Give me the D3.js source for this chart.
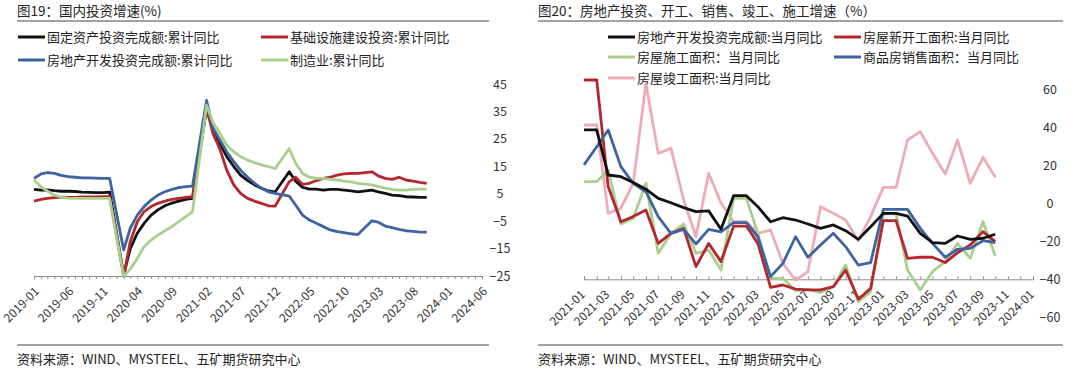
<!DOCTYPE html>
<html>
<head>
<meta charset="utf-8">
<script src="https://cdn.jsdelivr.net/npm/d3@7"></script>
<style>
  body { margin: 0; background: #fff; }
  svg { display: block; font-family: "Noto Sans CJK SC", "Noto Sans", sans-serif; }
</style>
</head>
<body>
<svg id="chart" width="1080" height="372"></svg>
<script>
const parse = d3.timeParse('%Y-%m')

// left panel: cumulative yoy, 2019-01 .. 2023-10 (no January print from 2020 on)
const leftDates = d3.timeMonth.range(parse('2019-01'), parse('2023-11'))
const fixedAsset = [
  6.6, 6.3, 6.4, 6.1, 5.9, 5.9, 5.8, 5.6, 5.5, 5.4, 5.4, 5.6,
  null, -24.6, -15.0, -9.4, -5.8, -2.8, -0.9, 0.6, 1.6, 2.3, 2.9, 3.3,
  null, 36.0, 28.0, 23.4, 18.5, 14.9, 11.8, 9.8, 8.2, 7.0, 6.0, 5.7,
  null, 13.0, 9.6, 7.3, 6.7, 6.7, 6.3, 6.6, 6.6, 6.3, 6.0, 5.7,
  null, 6.3, 5.7, 5.1, 4.5, 4.3, 3.9, 3.8, 3.7, 3.7,
]
const infra = [
  2.3, 2.9, 3.3, 3.6, 3.7, 3.7, 3.7, 3.8, 3.8, 3.8, 3.9, 3.9,
  null, -25.0, -12.5, -5.2, -1.5, 0.3, 1.5, 2.3, 2.9, 3.3, 3.7, 3.9,
  null, 36.5, 27.0, 21.2, 13.6, 8.2, 5.1, 3.3, 2.3, 1.5, 0.6, 0.5,
  null, 9.4, 11.0, 8.4, 8.8, 9.8, 10.6, 11.0, 11.8, 12.2, 12.4, 12.4,
  null, 13.0, 11.5, 10.6, 10.2, 11.0, 10.0, 9.6, 9.1, 8.8,
]
const realEstate = [
  10.6, 12.2, 12.7, 12.4, 11.7, 11.2, 11.0, 10.8, 10.8, 10.7, 10.6, 10.6,
  null, -15.5, -7.6, -2.8, 0.3, 2.7, 4.5, 5.7, 6.6, 7.2, 7.6, 7.8,
  null, 39.0, 29.0, 24.6, 20.3, 16.7, 13.6, 11.0, 8.8, 7.0, 5.7, 5.1,
  null, 4.1, 0.9, -2.8, -4.6, -5.8, -7.0, -8.2, -8.8, -9.2, -9.6, -9.9,
  null, -4.9, -5.4, -6.8, -7.4, -8.0, -8.5, -8.7, -9.0, -9.0,
]
const manufacturing = [
  10.0, 7.5, 6.0, 4.5, 3.7, 3.4, 3.3, 3.3, 3.3, 3.3, 3.3, 3.3,
  null, -25.0, -22.5, -18.6, -14.3, -11.9, -10.1, -8.5, -7.0, -5.2, -3.4, -1.5,
  null, 37.3, 31.0, 27.0, 22.7, 20.3, 18.5, 17.3, 16.3, 15.5, 14.9, 14.2,
  null, 21.5, 16.1, 12.4, 11.0, 10.6, 10.6, 10.2, 10.0, 9.6, 9.3, 8.8,
  null, 8.2, 7.6, 7.0, 6.6, 6.3, 6.3, 6.6, 6.7, 6.7,
]
const leftTickLabels = ['2019-01', '2019-06', '2019-11', '2020-04', '2020-09', '2021-02', '2021-07',
  '2021-12', '2022-05', '2022-10', '2023-03', '2023-08', '2024-01', '2024-06']
const leftYTicks = [45, 35, 25, 15, 5, -5, -15, -25]

// right panel: monthly yoy, 2021-01 .. 2023-10
const rightDates = d3.timeMonth.range(parse('2021-01'), parse('2023-11'))
const reInvestMonthly = [
  38.6, 38.6, 14.9, 14.0, 10.9, 7.4, 2.6, 0.3, -2.3, -4.4, -4.0, -13.7,
  4.0, 4.0, -1.8, -9.7, -7.6, -8.8, -10.9, -13.2, -11.4, -14.4, -19.0, -12.3,
  -5.3, -5.3, -6.7, -15.8, -20.7, -21.1, -17.2, -19.0, -18.4, -16.3,
]
const newStarts = [
  64.9, 64.9, 8.8, -9.7, -7.0, -3.5, -21.1, -15.8, -13.2, -33.3, -21.1, -30.7,
  -12.0, -12.0, -21.1, -44.2, -43.0, -45.2, -45.6, -45.6, -43.9, -35.1, -50.5, -44.8,
  -9.1, -9.1, -29.0, -28.4, -28.4, -31.2, -26.0, -21.9, -14.9, -20.2,
]
const underConstruction = [
  11.4, 11.4, 17.5, -10.9, -7.9, 10.5, -26.3, -15.8, -10.9, -26.3, -24.6, -35.1,
  2.6, 2.6, -15.8, -39.5, -39.5, -46.0, -45.3, -47.0, -43.9, -32.5, -51.8, -46.5,
  -5.6, -5.6, -35.1, -45.6, -36.0, -30.7, -21.1, -29.0, -9.7, -27.7,
]
const salesArea = [
  20.2, 29.8, 38.6, 19.3, 10.5, 6.1, -7.0, -15.8, -13.7, -21.4, -13.7, -15.0,
  -10.2, -10.2, -17.6, -38.6, -31.6, -17.6, -28.4, -21.9, -15.8, -22.8, -32.5, -31.2,
  -3.2, -3.2, -3.2, -13.2, -21.1, -28.4, -24.2, -23.7, -19.7, -20.7,
]
const completions = [
  41.2, 41.2, -5.3, -2.6, 10.5, 63.1, 26.3, 28.9, 1.8, -17.6, 15.8, 0.2,
  -9.7, -9.7, -15.8, -14.0, -31.6, -40.5, -36.0, -1.8, -5.3, -8.8, -19.7, -7.0,
  8.4, 8.4, 33.3, 37.7, 26.3, 15.4, 33.3, 10.5, 24.2, 13.7,
]
const rightTickLabels = ['2021-01', '2021-03', '2021-05', '2021-07', '2021-09', '2021-11', '2022-01',
  '2022-03', '2022-05', '2022-07', '2022-09', '2022-11', '2023-01', '2023-03', '2023-05', '2023-07',
  '2023-09', '2023-11', '2024-01']
const rightYTicks = [60, 40, 20, 0, -20, -40, -60]

const colors = {
  black: '#111111',
  red: '#b5262f',
  blue: '#3d64a0',
  green: '#a8cf8c',
  pink: '#efaab8',
}

const svg = d3.select('#chart')
svg.append('rect').attr('width', 1080).attr('height', 372).attr('fill', '#fff')

const drawFrame = (x0, x1, title) => {
  svg.append('text').attr('x', x0).attr('y', 16).attr('font-size', 13.5).attr('fill', '#222').text(title)
  svg.append('line').attr('x1', x0).attr('x2', x1).attr('y1', 21).attr('y2', 21)
    .attr('stroke', '#444').attr('stroke-width', 1)
  svg.append('line').attr('x1', x0).attr('x2', x1).attr('y1', 345).attr('y2', 345)
    .attr('stroke', '#444').attr('stroke-width', 1)
  svg.append('text').attr('x', x0).attr('y', 364).attr('font-size', 13).attr('fill', '#222')
    .text('资料来源：WIND、MYSTEEL、五矿期货研究中心')
}

const drawLegend = (items) => {
  items.forEach((it) => {
    svg.append('line').attr('x1', it.x).attr('x2', it.x + 27).attr('y1', it.y).attr('y2', it.y)
      .attr('stroke', it.color).attr('stroke-width', 3)
    svg.append('text').attr('x', it.x + 29).attr('y', it.y).attr('dy', '0.35em')
      .attr('font-size', 13).attr('fill', '#222').text(it.label)
  })
}

const drawSeries = (g, dates, series, x, y) => {
  const line = d3.line().x((d) => x(d.date)).y((d) => y(d.v))
  series.forEach((s) => {
    const pts = dates.map((date, i) => ({date, v: s.values[i]})).filter((d) => d.v != null)
    g.append('path').attr('d', line(pts)).attr('fill', 'none')
      .attr('stroke', s.color).attr('stroke-width', s.width || 2.8)
      .attr('stroke-linejoin', 'round')
  })
}

// ---------- left chart ----------
drawFrame(17, 489, '图19：国内投资增速(%)')
drawLegend([
  {x: 18, y: 37, color: colors.black, label: '固定资产投资完成额:累计同比'},
  {x: 261, y: 37, color: colors.red, label: '基础设施建设投资:累计同比'},
  {x: 18, y: 60, color: colors.blue, label: '房地产开发投资完成额:累计同比'},
  {x: 261, y: 60, color: colors.green, label: '制造业:累计同比'},
])

{
  const x = d3.scaleTime().domain([parse('2019-01'), parse('2024-06')]).range([34, 482])
  const y = d3.scaleLinear().domain([-25, 45]).range([276, 84])
  const g = svg.append('g')

  const xAxis = g.append('g').attr('transform', `translate(0,${y(-25)})`)
    .call(d3.axisBottom(x).tickValues(d3.timeMonth.range(parse('2019-01'), parse('2024-07')))
      .tickSize(3).tickFormat(''))
  xAxis.selectAll('line, path').attr('stroke', '#8c8c8c')

  g.append('g').selectAll('text').data(leftTickLabels).join('text')
    .attr('transform', (d) => `translate(${x(parse(d)) + 3},${y(-25) + 13}) rotate(-45)`)
    .attr('text-anchor', 'end').attr('dy', '0.35em')
    .attr('font-size', 12).attr('fill', '#333').text((d) => d)

  const yAxis = g.append('g').attr('transform', 'translate(500,0)')
    .call(d3.axisRight(y).tickValues(leftYTicks).tickSize(0).tickPadding(0).tickFormat((d) => d3.format('')(d).replace('-', '−')))
  yAxis.select('.domain').remove()
  yAxis.selectAll('text').attr('text-anchor', 'middle').attr('font-size', 12.5)
    .attr('fill', '#333').attr('font-family', '"Noto Sans CJK SC", sans-serif')

  drawSeries(g, leftDates, [
    {values: fixedAsset, color: colors.black},
    {values: infra, color: colors.red},
    {values: realEstate, color: colors.blue},
    {values: manufacturing, color: colors.green},
  ], x, y)
}

// ---------- right chart ----------
drawFrame(538, 1063, '图20：房地产投资、开工、销售、竣工、施工增速（%）')
drawLegend([
  {x: 608, y: 37, color: colors.black, label: '房地产开发投资完成额:当月同比'},
  {x: 834, y: 37, color: colors.red, label: '房屋新开工面积:当月同比'},
  {x: 608, y: 57, color: colors.green, label: '房屋施工面积：当月同比'},
  {x: 834, y: 57, color: colors.blue, label: '商品房销售面积：当月同比'},
  {x: 608, y: 78, color: colors.pink, label: '房屋竣工面积:当月同比'},
])

{
  const x = d3.scaleTime().domain([parse('2021-01'), parse('2024-01')]).range([584, 1033])
  const y = d3.scaleLinear().domain([-60, 60]).range([317.3, 89.3])
  const g = svg.append('g')

  const xAxis = g.append('g').attr('transform', `translate(0,${y(-40)})`)
    .call(d3.axisBottom(x).tickValues(d3.timeMonth.range(parse('2021-01'), parse('2024-02')))
      .tickSize(-3).tickFormat(''))
  xAxis.selectAll('line, path').attr('stroke', '#8c8c8c')

  g.append('g').selectAll('text').data(rightTickLabels).join('text')
    .attr('transform', (d) => `translate(${x(parse(d)) - 1},${y(-40) + 13}) rotate(-45)`)
    .attr('text-anchor', 'end').attr('dy', '0.35em')
    .attr('font-size', 12).attr('fill', '#333').text((d) => d)

  const yAxis = g.append('g').attr('transform', 'translate(1050,0)')
    .call(d3.axisRight(y).tickValues(rightYTicks).tickSize(0).tickPadding(0).tickFormat((d) => d3.format('')(d).replace('-', '−')))
  yAxis.select('.domain').remove()
  yAxis.selectAll('text').attr('text-anchor', 'middle').attr('font-size', 12.5)
    .attr('fill', '#333').attr('font-family', '"Noto Sans CJK SC", sans-serif')

  drawSeries(g, rightDates, [
    {values: completions, color: colors.pink},
    {values: underConstruction, color: colors.green},
    {values: newStarts, color: colors.red},
    {values: salesArea, color: colors.blue},
    {values: reInvestMonthly, color: colors.black},
  ], x, y)
}
</script>
</body>
</html>
